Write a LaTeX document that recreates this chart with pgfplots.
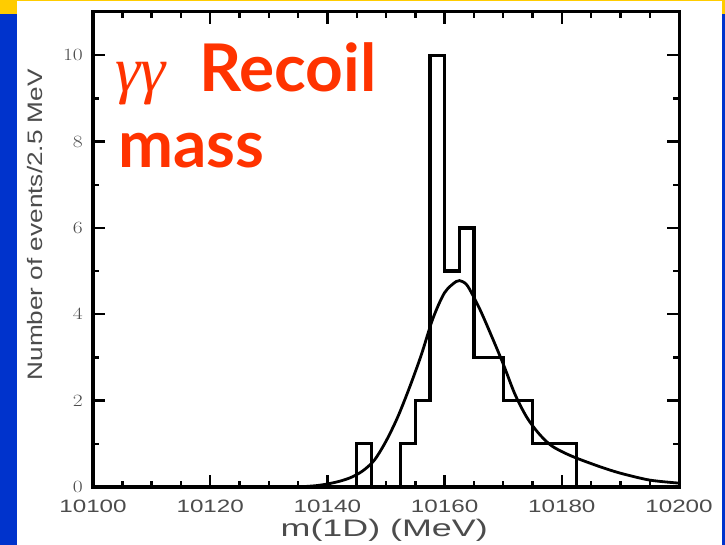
\documentclass[border=0pt]{standalone}
\usepackage{fontspec}
\usepackage{graphicx}
\usepackage{pgfplots}
\pgfplotsset{compat=1.18}
\setmainfont{Liberation Sans}
\newfontfamily\headfont{Lato}
\newfontfamily\greekfont{Liberation Serif}
\definecolor{slideblue}{RGB}{0,51,204}
\definecolor{slideyellow}{RGB}{255,204,0}
\definecolor{headred}{RGB}{255,51,0}

\begin{document}
\begin{tikzpicture}
\useasboundingbox (0,0) rectangle (725bp,545bp);
% slide background: yellow top band, blue side bands, white panel
\fill[slideyellow] (0,531bp) rectangle (725bp,545bp);
\fill[slideblue] (0,0) rectangle (17bp,531bp);
\fill[slideblue] (722bp,0) rectangle (725bp,531bp);
\fill[white] (17bp,0) rectangle (722bp,543.5bp);
\begin{axis}[
  at={(93bp,58bp)}, anchor=south west, scale only axis,
  width=586bp, height=475bp,
  xmin=10100, xmax=10200, ymin=0, ymax=11,
  xtick={10100,10120,10140,10160,10180,10200},
  xticklabels={10100,10120,10140,10160,10180,10200},
  minor x tick num=3,
  ytick={0,2,4,6,8,10},
  minor y tick num=1,
  scaled x ticks=false,
  tick align=inside,
  major tick length=12bp, minor tick length=6bp,
  tick style={black, line width=2.4bp},
  major tick style={black, line width=2.4bp},
  minor tick style={black, line width=2.4bp},
  axis line style={line width=3bp},
  ticklabel style={font=\fontsize{18}{18}\selectfont, text=black!70},
  xticklabel style={inner sep=0pt, anchor=north, yshift=-13bp, xscale=1.35},
  yticklabel style={inner sep=0pt, anchor=east, xshift=-10bp, xscale=1.25},
  xlabel={\scalebox{1.5}[1]{m(1D) (MeV)}},
  xlabel style={at={(axis description cs:0.497,-0.0905)}, anchor=center,
    font=\fontsize{24}{24}\selectfont, text=black!70},
  ylabel={\scalebox{1.25}[1]{Number of events/2.5 MeV}},
  ylabel style={at={(axis description cs:-0.099,0.552)}, anchor=center,
    font=\fontsize{21}{21}\selectfont, text=black!70},
]
% event histogram, 2.5 MeV bins
\addplot[const plot, black, line width=3.2bp] coordinates {
  (10145,0) (10145,1) (10147.5,0) (10152.5,1) (10155,2) (10157.5,10)
  (10160,5) (10162.5,6) (10165,3) (10167.5,3) (10170,2) (10172.5,2)
  (10175,1) (10177.5,1) (10180,1) (10182.5,0)
};
% fitted line shape
\addplot[smooth, black, line width=2.8bp] coordinates {
  (10136,0.01) (10138,0.03) (10140,0.07) (10142,0.13) (10144,0.22)
  (10146,0.37) (10148,0.62) (10150,1.06) (10152,1.62) (10154,2.3)
  (10156,3.05) (10158,3.9) (10160,4.5) (10162,4.76) (10163,4.76)
  (10164,4.64) (10166,4.12) (10168,3.5) (10170,2.85) (10172,2.15)
  (10174,1.62) (10176,1.25) (10178,0.98) (10180,0.82) (10182.5,0.67)
  (10186.5,0.47) (10190,0.32) (10195,0.16) (10200,0.09)
};
\end{axis}
\node[anchor=base west, inner sep=0, text=headred,
  font=\greekfont\itshape\fontsize{64}{64}\selectfont] at (115bp,453bp) {γγ};
\node[anchor=base west, inner sep=0, text=headred,
  font=\headfont\bfseries\fontsize{66}{66}\selectfont] at (199bp,453bp) {Recoil};
\node[anchor=base west, inner sep=0, text=headred,
  font=\headfont\bfseries\fontsize{66}{66}\selectfont] at (118bp,377bp) {mass};
\end{tikzpicture}
\end{document}
